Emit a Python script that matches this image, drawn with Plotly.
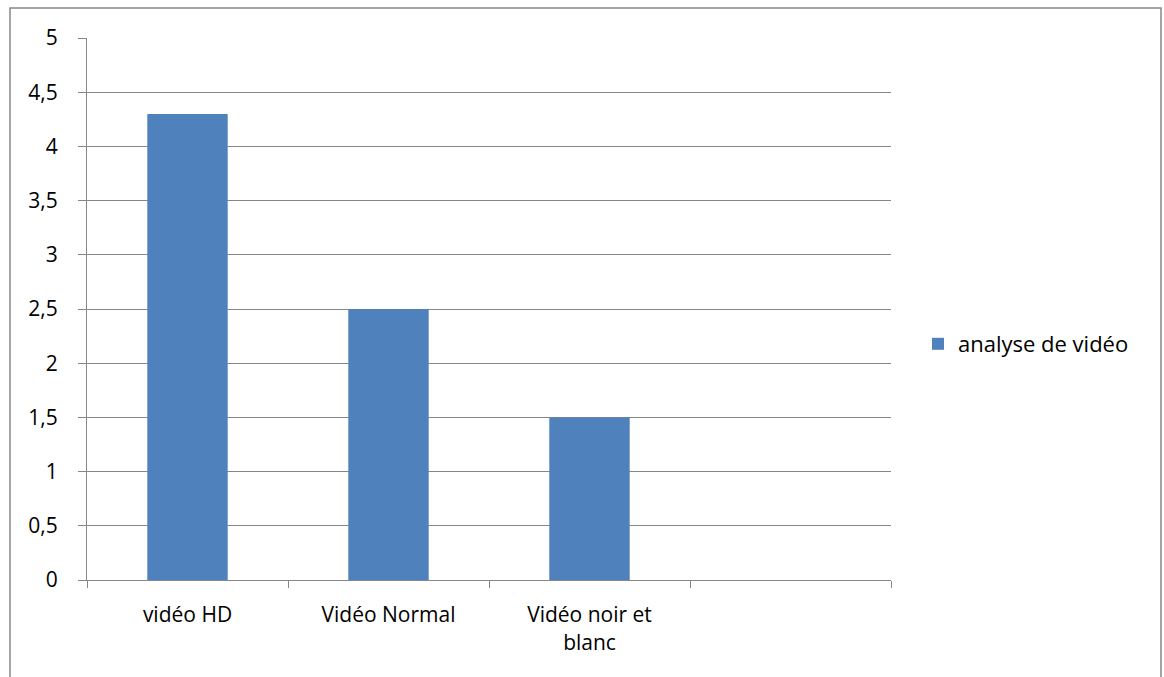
import plotly.graph_objects as go

categories = ["vidéo HD", "Vidéo Normal", "Vidéo noir et<br>blanc", " "]
values = [4.3, 2.5, 1.5]
series_name = "analyse de vidéo"
y_ticks = [0, 0.5, 1, 1.5, 2, 2.5, 3, 3.5, 4, 4.5, 5]

W, H = 1164, 677
L, R, T, B = 87, 273, 38, 97
pw, ph = W - L - R, H - T - B

def px_x(x):
    return (x - L) / pw

def px_y(y):
    return (H - B - y) / ph

FONT = "Open Sans"
GRID = "#878787"

fig = go.Figure()
fig.add_trace(go.Bar(
    x=categories[:len(values)], y=values, name=series_name,
    marker=dict(color="#4F81BD", line=dict(width=0)),
    width=0.4, showlegend=True,
))

fig.update_layout(
    width=W, height=H,
    margin=dict(l=L, r=R, t=T, b=B, autoexpand=False),
    paper_bgcolor="white", plot_bgcolor="white",
    separators=", ",
    font=dict(family=FONT, size=21, color="#000000"),
    showlegend=True,
    legend=dict(x=px_x(918), y=px_y(344), xanchor="left", yanchor="middle",
                font=dict(family=FONT, size=22, color="#000000"),
                bgcolor="rgba(0,0,0,0)", itemwidth=30),
    bargap=0.6,
    xaxis=dict(
        type="category", categoryorder="array", categoryarray=categories,
        range=[-0.5, 3.5],
        tickson="boundaries", ticks="outside", ticklen=7, tickcolor=GRID, tickwidth=1,
        showline=True, linecolor=GRID, linewidth=1,
        showgrid=False, zeroline=False,
        tickfont=dict(family=FONT, size=21, color="#000000"),
        ticklabelstandoff=16,
    ),
    yaxis=dict(
        range=[0, 5], tickvals=y_ticks, tickformat=".1~f",
        ticks="outside", ticklen=8, tickcolor=GRID, tickwidth=1,
        showline=True, linecolor=GRID, linewidth=1,
        showgrid=True, gridcolor=GRID, gridwidth=1,
        zeroline=False,
        tickfont=dict(family=FONT, size=21, color="#000000"),
        ticklabelstandoff=16,
    ),
    shapes=[dict(type="rect", xref="paper", yref="paper",
                 x0=px_x(10), x1=px_x(1161), y0=px_y(700), y1=px_y(8),
                 line=dict(color="#888888", width=1.5), fillcolor="rgba(0,0,0,0)",
                 layer="below")],
)

fig.write_html("out.html")
